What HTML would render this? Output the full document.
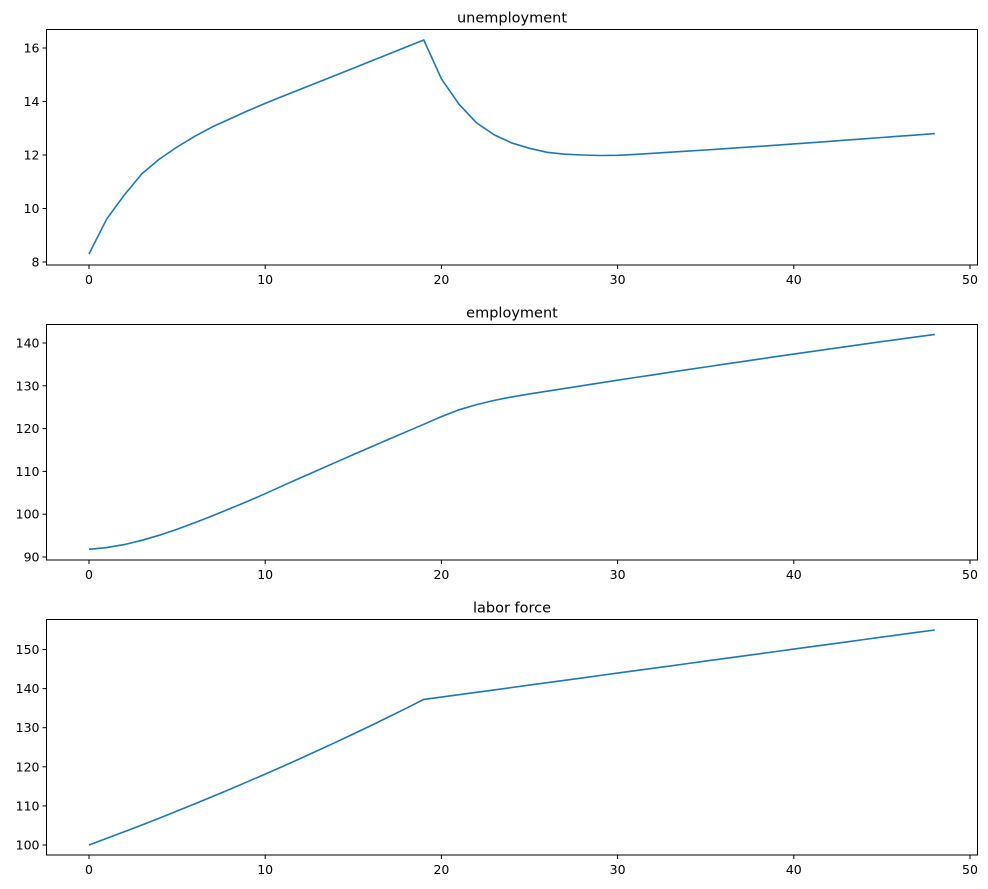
<!DOCTYPE html>
<html><head><meta charset="utf-8"><style>
html,body{margin:0;padding:0;background:#fff;}
svg{display:block;font-family:"DejaVu Sans","Liberation Sans",sans-serif;}
</style></head><body>
<svg id="s" width="988" height="889" xmlns="http://www.w3.org/2000/svg"></svg>
<script>
var s=document.getElementById('s');var h='';
function X(t){return 89+t*17.62;}
var L=46.5,R=977.5;
function panel(top,bot,title,ticks,ymap,data){
  h+='<rect x="'+L+'" y="'+top+'" width="'+(R-L)+'" height="'+(bot-top)+'" fill="none" stroke="#000" stroke-width="1"/>';
  h+='<text x="512" y="'+(top-7)+'" font-size="14.5" text-anchor="middle">'+title+'</text>';
  for(var i=0;i<=5;i++){var x=X(i*10);
    h+='<line x1="'+x+'" y1="'+bot+'" x2="'+x+'" y2="'+(bot+4)+'" stroke="#000"/>';
    h+='<text x="'+x+'" y="'+(bot+19)+'" font-size="12.5" text-anchor="middle">'+(i*10)+'</text>';}
  ticks.forEach(function(v){var y=ymap(v);
    h+='<line x1="'+L+'" y1="'+y+'" x2="'+(L-4)+'" y2="'+y+'" stroke="#000"/>';
    h+='<text x="'+(L-7)+'" y="'+(y+4.5)+'" font-size="12.5" text-anchor="end">'+v+'</text>';});
  var p=data.map(function(v,t){return X(t).toFixed(1)+','+ymap(v).toFixed(1);}).join(' ');
  h+='<polyline points="'+p+'" fill="none" stroke="#1f77b4" stroke-width="1.6" stroke-linejoin="round"/>';
}
var u=[8.3,9.6,10.5,11.3,11.85,12.3,12.7,13.05,13.35,13.65,13.93];
for(var t=11;t<=19;t++)u.push(13.93+(16.3-13.93)*(t-10)/9);
u=u.concat([14.85,13.9,13.2,12.75,12.45,12.25,12.1,12.03,12.0,11.98,11.99]);
for(t=31;t<=48;t++)u.push(11.99+(12.8-11.99)*Math.pow((t-30)/18,1.1));
var e=[91.8,92.2,92.9,93.9,95.1,96.5,98,99.6,101.3,103,104.8];
for(t=11;t<=19;t++)e.push(104.8+(121-104.8)*(t-10)/9*(1+0.03*(19-t)/9));
e=e.concat([122.8,124.4,125.6,126.6,127.4,128.1]);
for(t=26;t<=48;t++){var d=t-25;e.push(128.1+0.65*d-0.00196*d*d);}
var lf=[];for(t=0;t<=19;t++)lf.push(100*Math.pow(1.0168,t));
for(t=20;t<=48;t++)lf.push(137.2+(155-137.2)*(t-19)/29);
panel(29.5,265,'unemployment',[8,10,12,14,16],function(v){return 262-(v-8)*26.75;},u);
panel(324.5,560,'employment',[90,100,110,120,130,140],function(v){return 557-(v-90)*4.28;},e);
panel(619.5,855,'labor force',[100,110,120,130,140,150],function(v){return 845-(v-100)*3.91;},lf);
s.innerHTML=h;
</script>
</body></html>
